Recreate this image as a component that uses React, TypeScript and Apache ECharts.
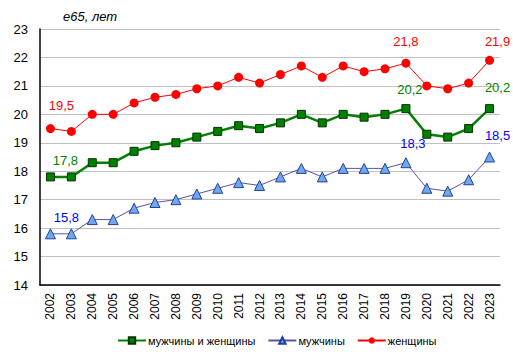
import React, { useEffect, useRef } from "react";
import * as echarts from "echarts";

const years = ["2002","2003","2004","2005","2006","2007","2008","2009","2010","2011","2012","2013","2014","2015","2016","2017","2018","2019","2020","2021","2022","2023"];
const total = [17.8,17.8,18.3,18.3,18.7,18.9,19.0,19.2,19.4,19.6,19.5,19.7,20.0,19.7,20.0,19.9,20.0,20.2,19.3,19.2,19.5,20.2];
const men = [15.8,15.8,16.3,16.3,16.7,16.9,17.0,17.2,17.4,17.6,17.5,17.8,18.1,17.8,18.1,18.1,18.1,18.3,17.4,17.3,17.7,18.5];
const women = [19.5,19.4,20.0,20.0,20.4,20.6,20.7,20.9,21.0,21.3,21.1,21.4,21.7,21.3,21.7,21.5,21.6,21.8,21.0,20.9,21.1,21.9];
const labelled = [0, 17, 21];
const names = ["мужчины и женщины", "мужчины", "женщины"];

const font = "Liberation Sans, Arial, sans-serif";

function build(values: number[], color: string, offsets: number[][]) {
  return values.map((v, i) => {
    const k = labelled.indexOf(i);
    if (k < 0) return v;
    return {
      value: v,
      label: {
        show: true,
        position: "top",
        formatter: (p: any) => String(p.value).replace(".", ","),
        color,
        fontSize: 13,
        fontFamily: font,
        offset: offsets[k],
      },
    };
  });
}

export default function App() {
  const ref = useRef<HTMLDivElement>(null);
  useEffect(() => {
    if (!ref.current) return;
    const chart = echarts.init(ref.current, null, { renderer: "svg" });
    chart.setOption({
      animation: false,
      backgroundColor: "#ffffff",
      title: {
        text: "е65, лет",
        left: 58,
        top: 5,
        textStyle: { fontSize: 13, fontStyle: "italic", fontWeight: "normal", color: "#000", fontFamily: font },
      },
      grid: { left: 40, right: 13, top: 29, bottom: 74 },
      xAxis: {
        type: "category",
        data: years,
        boundaryGap: true,
        axisLine: { lineStyle: { color: "#000", width: 1.5 } },
        axisTick: { show: false },
        axisLabel: { rotate: 90, color: "#000", fontSize: 12, fontFamily: font, margin: 8, interval: 0 },
      },
      yAxis: {
        type: "value",
        min: 14,
        max: 23,
        interval: 1,
        axisLine: { show: true, lineStyle: { color: "#000", width: 1.5 } },
        axisTick: { show: false },
        axisLabel: { color: "#000", fontSize: 13, fontFamily: font, margin: 12 },
        splitLine: { lineStyle: { color: "#c0c0c0", width: 1 } },
      },
      legend: {
        bottom: 8,
        left: 112,
        itemWidth: 28,
        itemHeight: 8,
        itemGap: 12,
        textStyle: { color: "#000", fontSize: 11, fontFamily: font, padding: [0, 0, 0, -3] },
        data: names,
      },
      series: [
        {
          name: names[0],
          type: "line",
          clip: false,
          data: build(total, "#008000", [[15, 0], [4, -3], [8, -5]]),
          lineStyle: { color: "#008000", width: 2.5 },
          itemStyle: { color: "#008000", borderColor: "#003300", borderWidth: 1 },
          symbol: "rect",
          symbolSize: 8,
          z: 3,
        },
        {
          name: names[1],
          type: "line",
          clip: false,
          data: build(men, "#0000ff", [[16, 1], [7, -2], [8, -5]]),
          lineStyle: { color: "#5a50a8", width: 1 },
          itemStyle: { color: "#70a8ea", borderColor: "#2040a0", borderWidth: 1 },
          symbol: "triangle",
          symbolSize: 10,
          z: 2,
        },
        {
          name: names[2],
          type: "line",
          clip: false,
          data: build(women, "#ff0000", [[11, -7], [0, -6], [8, -3]]),
          lineStyle: { color: "#ff0000", width: 1 },
          itemStyle: { color: "#ff0000" },
          symbol: "circle",
          symbolSize: 9,
          z: 4,
        },
      ],
    });
    return () => chart.dispose();
  }, []);
  return <div ref={ref} style={{ position: "fixed", left: 0, top: 0, width: 513, height: 359 }} />;
}
